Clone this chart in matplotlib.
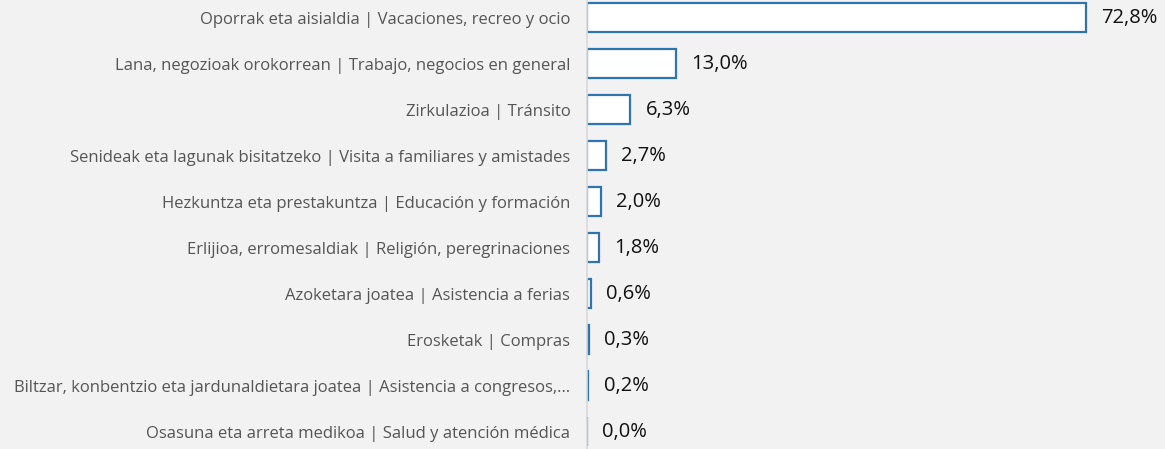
import matplotlib
matplotlib.use("Agg")
import matplotlib.pyplot as plt

categories = [
    "Oporrak eta aisialdia | Vacaciones, recreo y ocio",
    "Lana, negozioak orokorrean | Trabajo, negocios en general",
    "Zirkulazioa | Tránsito",
    "Senideak eta lagunak bisitatzeko | Visita a familiares y amistades",
    "Hezkuntza eta prestakuntza | Educación y formación",
    "Erlijioa, erromesaldiak | Religión, peregrinaciones",
    "Azoketara joatea | Asistencia a ferias",
    "Erosketak | Compras",
    "Biltzar, konbentzio eta jardunaldietara joatea | Asistencia a congresos,…",
    "Osasuna eta arreta medikoa | Salud y atención médica",
]
values = [72.8, 13.0, 6.3, 2.7, 2.0, 1.8, 0.6, 0.3, 0.2, 0.0]
value_labels = ["72,8%", "13,0%", "6,3%", "2,7%", "2,0%", "1,8%", "0,6%", "0,3%", "0,2%", "0,0%"]

W, H = 1165, 449
bg = "#f2f2f2"
fig = plt.figure(figsize=(W / 100, H / 100), dpi=100, facecolor=bg)
ax = fig.add_axes([587 / W, 0, 1 - 587 / W, 1], facecolor=bg)

ypos = list(range(len(categories)))
ax.barh(ypos, values, height=0.63, color="white", edgecolor="#2E75B0", linewidth=1.6)

ax.set_xlim(0, (W - 587) / 6.855)
ax.set_ylim(9.37, -0.39)

ax.set_yticks(ypos)
ax.set_yticklabels(categories, fontsize=12.0, color="#555555", family=["Open Sans", "DejaVu Sans"])
ax.tick_params(axis="y", length=0, pad=12)
ax.set_xticks([])

for s in ["top", "right", "bottom"]:
    ax.spines[s].set_visible(False)
ax.spines["left"].set_color("#d9d9d9")
ax.spines["left"].set_linewidth(1.2)

for y, v, lab in zip(ypos, values, value_labels):
    ax.annotate(lab, xy=(v, y), xytext=(11, 0), textcoords="offset points",
                va="center", ha="left", fontsize=14.5, color="#111111",
                family=["Open Sans", "DejaVu Sans"])

fig.savefig("out.png", dpi=100, facecolor=bg)
